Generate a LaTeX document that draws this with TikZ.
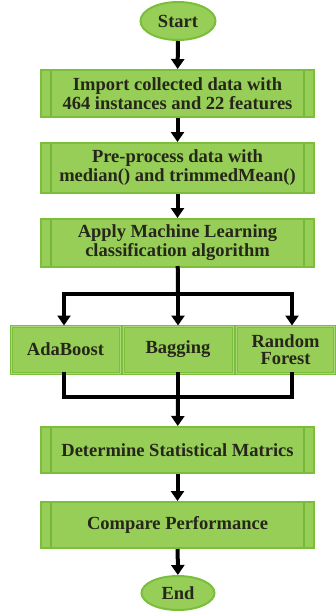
\documentclass[tikz,border=0pt]{standalone}
\usepackage{fontspec}
\setmainfont{Liberation Serif}
\usetikzlibrary{shapes.geometric,arrows.meta}
\definecolor{boxfill}{RGB}{150,206,88}
\definecolor{boxedge}{RGB}{122,190,60}
\definecolor{barline}{RGB}{118,182,58}
\definecolor{inktext}{RGB}{38,38,26}
\tikzset{
  x=1pt, y=-1pt,
  base/.style={fill=boxfill, draw=boxedge, line width=2pt, text=inktext,
    font=\bfseries\fontsize{18.5}{19}\selectfont, align=center, inner sep=0pt},
  terminal/.style={base, ellipse},
  procbox/.style={base, rectangle, minimum width=273pt,
    path picture={
      \draw[barline, line width=1.2pt]
        ([xshift=10pt]path picture bounding box.north west) --
        ([xshift=10pt]path picture bounding box.south west);
      \draw[barline, line width=1.2pt]
        ([xshift=-10pt]path picture bounding box.north east) --
        ([xshift=-10pt]path picture bounding box.south east);
    }},
  algbox/.style={base, rectangle, minimum height=47pt, double=boxfill!80!white,
    double distance=1pt, line width=1pt},
  flow/.style={line width=4pt, -{Triangle[width=13pt,length=10pt]}},
  wire/.style={line width=4pt, line cap=rect},
}
\begin{document}
\begin{tikzpicture}
\useasboundingbox (0,0) rectangle (335,611);

% terminals
\node[terminal, minimum width=75pt, minimum height=38pt] (start) at (178,21) {Start};
\node[terminal, minimum width=73pt, minimum height=34pt] (end) at (178,593) {End};

% process steps
\node[procbox, minimum height=47pt] (import) at (177.5,93.5)
  {Import collected data with\\464 instances and 22 features};
\node[procbox, minimum height=50pt] (prep) at (177.5,168)
  {Pre-process data with\\median() and trimmedMean()};
\node[procbox, minimum height=48pt] (apply) at (177.5,243)
  {Apply Machine Learning\\classification algorithm};
\node[procbox, minimum height=46pt] (stats) at (177.5,450)
  {Determine Statistical Matrics};
\node[procbox, minimum height=46pt] (comp) at (177.5,525)
  {Compare Performance};

% algorithms
\node[algbox, minimum width=109pt] (ada) at (65.5,349.5) {AdaBoost};
\node[algbox, minimum width=110pt] (bag) at (178,349.5) {Bagging};
\node[algbox, minimum width=98pt, font=\bfseries\fontsize{18.5}{17}\selectfont]
  (rf) at (285.5,349.5) {Random\\Forest};

% fork / join points
\coordinate (fork) at (178,294);
\coordinate (forkL) at (64,294);
\coordinate (forkR) at (292,294);
\coordinate (join) at (178,397);
\coordinate (joinL) at (64,397);
\coordinate (joinR) at (292,397);

% connectors
\draw[flow] (start) -- (import);
\draw[flow] (import) -- (prep);
\draw[flow] (prep) -- (apply);
\draw[wire] (apply) -- (fork);
\draw[wire] (forkL) -- (forkR);
\draw[flow] (forkL) -- (ada.north -| forkL);
\draw[flow] (fork) -- (bag);
\draw[flow] (forkR) -- (rf.north -| forkR);
\draw[wire] (ada.south -| joinL) -- (joinL) -- (joinR) -- (rf.south -| joinR);
\draw[wire] (bag) -- (join);
\draw[flow] (join) -- (stats);
\draw[flow] (stats) -- (comp);
\draw[flow] (comp) -- (end);
\end{tikzpicture}
\end{document}
